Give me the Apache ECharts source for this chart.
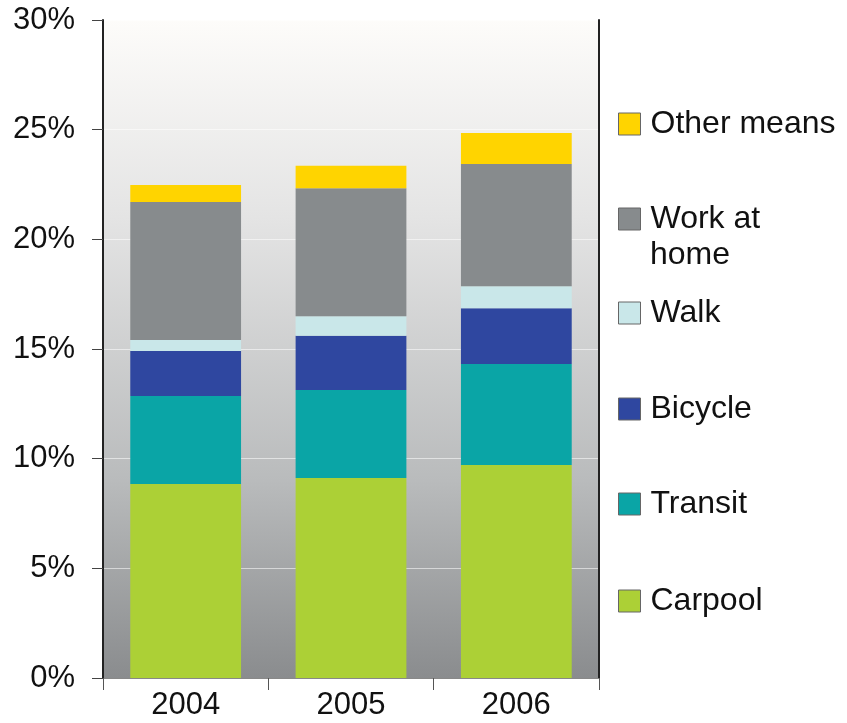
<!DOCTYPE html>
<html>
<head>
<meta charset="utf-8">
<script src="https://cdn.jsdelivr.net/npm/echarts@6/dist/echarts.min.js"></script>
<style>
  html, body { margin: 0; padding: 0; background: #fff; }
  #chart { width: 847px; height: 723px; }
</style>
</head>
<body>
<div id="chart"></div>
<script>
var years = ["2004", "2005", "2006"]
var carpool = [8.85, 9.12, 9.71]
var transit = [4.01, 4.01, 4.61]
var bicycle = [2.05, 2.47, 2.54]
var walk = [0.5, 0.89, 1.0]
var workAtHome = [6.29, 5.84, 5.58]
var otherMeans = [0.78, 1.02, 1.41]

var seriesNames = ["Carpool", "Transit", "Bicycle", "Walk", "Work at home", "Other means"]
var seriesValues = [carpool, transit, bicycle, walk, workAtHome, otherMeans]
var seriesColors = ["#acd036", "#0aa5a6", "#2f47a0", "#c9e7e9", "#878b8d", "#ffd400"]

var chart = echarts.init(document.querySelector("#chart"))

var font = "Liberation Sans, Arial, sans-serif"

// one legend per item so the uneven vertical spacing can be matched
var legendTops = { "Other means": 108, "Work at home": 203, "Walk": 297, "Bicycle": 393, "Transit": 488, "Carpool": 585 }
var legends = seriesNames.slice().reverse().map(function (name) {
    return {
        data: [name],
        left: 618,
        top: legendTops[name],
        padding: 0,
        orient: "vertical",
        icon: "rect",
        itemWidth: 22,
        itemHeight: 22,
        itemStyle: { borderColor: "#666", borderWidth: 1 },
        selectedMode: false,
        // second line of "Work at home" is drawn as a graphic text below
        formatter: function (n) { return n === "Work at home" ? "Work at" : n },
        textStyle: {
            fontFamily: font,
            fontSize: 32,
            color: "#111",
            padding: [0, 0, 0, 5],
        },
    }
})

var option = {
    animation: false,
    backgroundColor: "#fff",
    grid: {
        left: 103,
        right: 248,
        top: 20,
        bottom: 45,
        show: true,
        borderWidth: 0,
        backgroundColor: new echarts.graphic.LinearGradient(0, 0, 0, 1, [
            { offset: 0, color: "#fdfcfa" },
            { offset: 0.3, color: "#e4e4e4" },
            { offset: 0.7, color: "#b9bbbc" },
            { offset: 1, color: "#8a8c8e" },
        ]),
    },
    legend: legends,
    graphic: [{
        type: "text",
        left: 650,
        top: 239,
        style: { text: "home", font: "32px " + font, fill: "#111" },
    }],
    xAxis: {
        type: "category",
        data: years,
        axisLine: { show: true, lineStyle: { color: "#888", width: 1 } },
        axisTick: { show: true, length: 12, lineStyle: { color: "#555" } },
        axisLabel: { fontFamily: font, fontSize: 31, color: "#111", margin: 12 },
    },
    yAxis: [{
        type: "value",
        min: 0,
        max: 30,
        interval: 5,
        axisLine: { show: true, lineStyle: { color: "#222", width: 2 } },
        axisTick: { show: true, length: 11, lineStyle: { color: "#444" } },
        axisLabel: {
            fontFamily: font,
            fontSize: 31,
            color: "#111",
            margin: 28,
            formatter: "{value}%",
        },
        splitLine: { show: true, lineStyle: { color: "rgba(255,255,255,0.55)", width: 1 } },
    }, {
        type: "value",
        min: 0,
        max: 30,
        interval: 5,
        position: "right",
        axisLine: { show: true, lineStyle: { color: "#222", width: 2 } },
        axisTick: { show: false },
        axisLabel: { show: false },
        splitLine: { show: false },
    }],
    series: seriesNames.map(function (name, i) {
        return {
            name: name,
            type: "bar",
            stack: "total",
            barCategoryGap: "33%",
            data: seriesValues[i],
            itemStyle: { color: seriesColors[i] },
        }
    }),
}

chart.setOption(option)
</script>
</body>
</html>
